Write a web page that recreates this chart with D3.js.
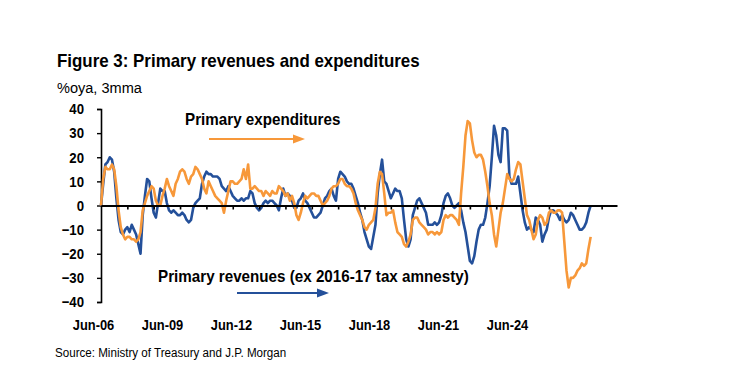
<!DOCTYPE html>
<html>
<head>
<meta charset="utf-8">
<script src="https://cdn.jsdelivr.net/npm/d3@7"></script>
<style>
  body { margin: 0; background: #fff; }
  svg { font-family: "Liberation Sans Narrow", "Arial Narrow", "Liberation Sans", Arial, sans-serif; }
</style>
</head>
<body>
<svg width="730" height="383"></svg>
<script>
// monthly, starting Jun-06 (index 0) to Jan-25
var revenues = [
  0, 9, 17, 18, 20, 19, 14, 3, -6, -11, -12, -10,
  -9, -11, -8, -10, -12, -16, -20, -4, 4, 11, 10, 3,
  -3, -5, 1, 7, 6, 6, 1, -2, -3, -2, -3, -4,
  -4, -3, -4, -6, -7, -6, -1, 1, 2, 3, 9, 12,
  14, 13, 13, 12, 12, 12, 11, 8, 7, 6, 8, 6,
  4, 3, 2, 2, 3, 2, 3, 3, 6, 5, 1, -1,
  -2, -1, 1, 2, 1, 2, 2, 1, 0, -2, 3, 7,
  4, 5, 4, 2, -1, -1, 2, 3, 5, 2, 1, -1,
  -3, -5, -5, -4, -3, 0, 3, 4, 6, 7, 4, 2,
  11, 14, 13, 12, 10, 9, 9, 7, 4, 1, -3, -6,
  -11, -14, -17, -18, -13, -8, 5, 13, 19, 10, 9, 6,
  3, 5, 7, 6, 6, 3, -6, -14, -17, -14, -4, -1,
  2, 3, 1, -1, -3, -8, -8, -8, -7, -8, -7, -4,
  1, 4, 5, 3, 0, -1, 0, 1, -2, -7, -11, -17,
  -23, -24, -21, -15, -10, -8, -8, -5, 1, 8, 20, 33,
  29, 21, 18, 32, 32, 31, 12, 9, 9, 9, 12, 5,
  -2, -7, -10, -9, -10, -11, -5, -6, -8, -15, -12, -10,
  -5, -2, -2, -3, -4, -6, -4, -6, -7, -6, -3, -4,
  -6, -8, -10, -10, -9, -7, -3, 0
];
var expenditures = [
  0, 11, 16, 15, 15, 17, 15, 8, -2, -9, -12, -14,
  -13, -13, -14, -14, -15, -14, -11, -2, 1, 4, 6, 8,
  7, 2, 0, 0, 4, 7, 11, 8, 6, 4, 9, 11,
  14, 15, 14, 11, 9, 12, 13, 16, 15, 13, 11, 7,
  5, 10, 8, 6, 4, 3, 2, 1, -3, 2, 6, 10,
  10, 9, 9, 10, 11, 15, 11, 17, 7, 7, 8, 7,
  6, 6, 4, 6, 5, 4, 6, 5, 5, 8, 7, 6,
  4, 5, 2, 4, 1, -4, -6, -3, 1, 4, 3, 4,
  5, 5, 4, 4, 2, 0, 1, 2, 4, 7, 8, 8,
  9, 11, 11, 9, 8, 8, 7, 5, 1, -2, -4, -6,
  -9, -10, -8, -7, -6, -1, 9, 14, 13, 5, -4, -3,
  -3, -2, -7, -11, -12, -13, -16, -17, -15, -12, -6, -5,
  -5, -7, -8, -9, -10, -12, -11, -11, -12, -11, -12, -11,
  -6, -4, -5, -4, -4, -5, -6, -8, 5, 16, 29, 35,
  34, 27, 22, 20, 21, 21, 19, 14, 8, 1, -4, -12,
  -17, -10, -3, 1, 7, 13, 11, 10, 11, 15, 18, 17,
  10, 3, -4, -6, -10, -14, -12, -6, -4, -5, -8, -7,
  -3, -2, -3, -3, -2, -2, -3, -15, -27, -34, -30, -30,
  -29, -27, -26, -24, -25, -24, -18, -13
];
var tickLabels = ["Jun-06", "Jun-09", "Jun-12", "Jun-15", "Jun-18", "Jun-21", "Jun-24"];
var yTicks = [-40, -30, -20, -10, 0, 10, 20, 30, 40];

var svg = d3.select("svg");
var blue = "#24509a", orange = "#f7983a";

var x = d3.scaleLinear().domain([0, 235]).range([101, 617]);
var y = d3.scaleLinear().domain([-40, 40]).range([302, 109]);

// no narrow font available, so squeeze the text sideways
function label(tx, ty, str, size, bold, sx) {
  return svg.append("text")
    .attr("transform", "translate(" + tx + "," + ty + ") scale(" + sx + ",1)")
    .style("font-size", size + "px").style("font-weight", bold ? "bold" : "normal")
    .text(str);
}

label(57, 67, "Figure 3: Primary revenues and expenditures", 18, true, 0.94);
label(57, 93, "%oya, 3mma", 15, false, 0.97);
label(55, 357, "Source: Ministry of Treasury and J.P. Morgan", 13.5, false, 0.86);

// y axis
var yAxis = svg.append("g").attr("transform", "translate(101,0)")
  .call(d3.axisLeft(y).tickValues(yTicks).tickSize(4).tickPadding(13));
yAxis.select(".domain").attr("stroke", "#000").attr("stroke-width", 1.6);
yAxis.selectAll("text").style("font-size", "15px").style("font-weight", "bold")
  .style("font-family", "inherit").attr("fill", "#000")
  .attr("x", 0).attr("transform", "translate(-17,0) scale(0.88,1)");
yAxis.selectAll("line").attr("stroke-width", 1.4);

// lines
var line = d3.line().x(function(d, i) { return x(i); }).y(function(d) { return y(d); });
svg.append("path").datum(revenues).attr("d", line)
  .attr("fill", "none").attr("stroke", blue).attr("stroke-width", 2.6).attr("stroke-linejoin", "round");
svg.append("path").datum(expenditures).attr("d", line)
  .attr("fill", "none").attr("stroke", orange).attr("stroke-width", 2.6).attr("stroke-linejoin", "round");

// x axis at zero
var xTickVals = d3.range(12, 235, 12);
var xAxis = svg.append("g").attr("transform", "translate(0," + y(0) + ")")
  .call(d3.axisBottom(x).tickValues(xTickVals).tickSize(4).tickSizeOuter(0).tickFormat(""));
xAxis.select(".domain").attr("stroke", "#000").attr("stroke-width", 2);
xAxis.selectAll("line").attr("stroke-width", 1.6);

// category labels under the plot
var labelScale = d3.scalePoint().domain(tickLabels).range([93, 507]);
var lab = svg.append("g").attr("transform", "translate(0,319)")
  .call(d3.axisBottom(labelScale).tickSize(0).tickPadding(0));
lab.select(".domain").remove();
lab.selectAll("text").style("font-size", "15px").style("font-weight", "bold")
  .style("font-family", "inherit").attr("fill", "#000")
  .attr("transform", "scale(0.86,1)");

// legend annotations
function arrow(x1, x2, yy, col) {
  svg.append("line").attr("x1", x1).attr("x2", x2 - 9).attr("y1", yy).attr("y2", yy)
    .attr("stroke", col).attr("stroke-width", 2);
  svg.append("path").attr("d", "M" + (x2 - 12) + "," + (yy - 4.5) + "L" + x2 + "," + yy + "L" + (x2 - 12) + "," + (yy + 4.5) + "Z")
    .attr("fill", col);
}
label(185, 125, "Primary expenditures", 16, true, 0.95);
arrow(209, 305, 139, orange);
label(158, 282, "Primary revenues (ex 2016-17 tax amnesty)", 16, true, 0.95);
arrow(237, 329, 293, blue);
</script>
</body>
</html>
